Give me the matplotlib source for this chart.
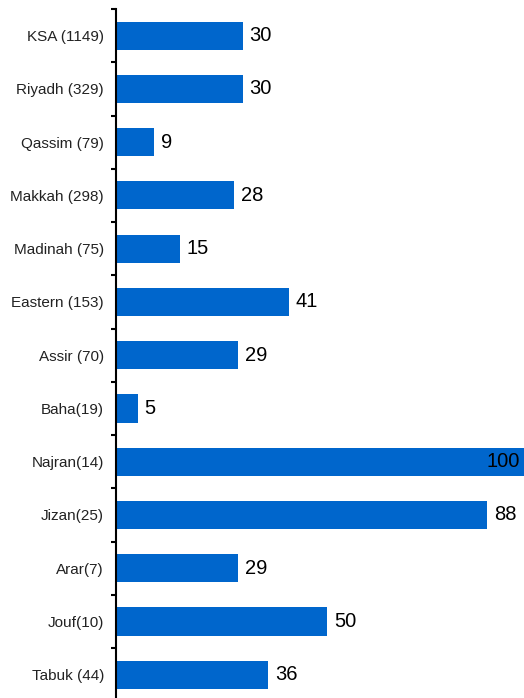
import matplotlib.pyplot as plt
import numpy as np

# Regionen (Stichprobengröße) und Anteile in Prozent
regions = ["KSA (1149)", "Riyadh (329)", "Qassim (79)", "Makkah (298)",
           "Madinah (75)", "Eastern (153)", "Assir (70)", "Baha(19)",
           "Najran(14)", "Jizan(25)", "Arar(7)", "Jouf(10)", "Tabuk (44)"]
values = [30, 30, 9, 28, 15, 41, 29, 5, 100, 88, 29, 50, 36]

plt.rcParams["font.family"] = ["Liberation Sans", "DejaVu Sans"]

fig = plt.figure(figsize=(5.24, 6.98), dpi=100)
ax = fig.add_axes([0.2223, -0.0047, 0.7777, 0.9918])

y = np.arange(len(regions))
x_max = 96.86
ax.barh(y, values, height=0.53, color="#0066CC")

ax.set_xlim(0, x_max)
ax.set_ylim(len(regions) - 0.5, -0.5)

# Wertbeschriftungen; Balken über den Rand hinaus bekommen die Zahl innen
for yi, v in zip(y, values):
    if v > x_max:
        ax.annotate(str(v), xy=(x_max, yi), xytext=(-3, 0),
                    textcoords="offset points", ha="right", va="center",
                    fontsize=14.5, color="black")
    else:
        ax.annotate(str(v), xy=(v, yi), xytext=(5, 0),
                    textcoords="offset points", ha="left", va="center",
                    fontsize=14.5, color="black")

ax.set_yticks(y)
ax.set_yticklabels(regions, fontsize=11, color="#222222")
ax.set_yticks(np.arange(-0.5, len(regions), 1), minor=True)
ax.tick_params(axis="y", which="major", length=0, pad=9)
ax.tick_params(axis="y", which="minor", length=3.5, width=1.5, direction="out")
ax.set_xticks([])

for side in ["top", "right", "bottom"]:
    ax.spines[side].set_visible(False)
ax.spines["left"].set_linewidth(1.5)

fig.savefig("out.png", dpi=100)
